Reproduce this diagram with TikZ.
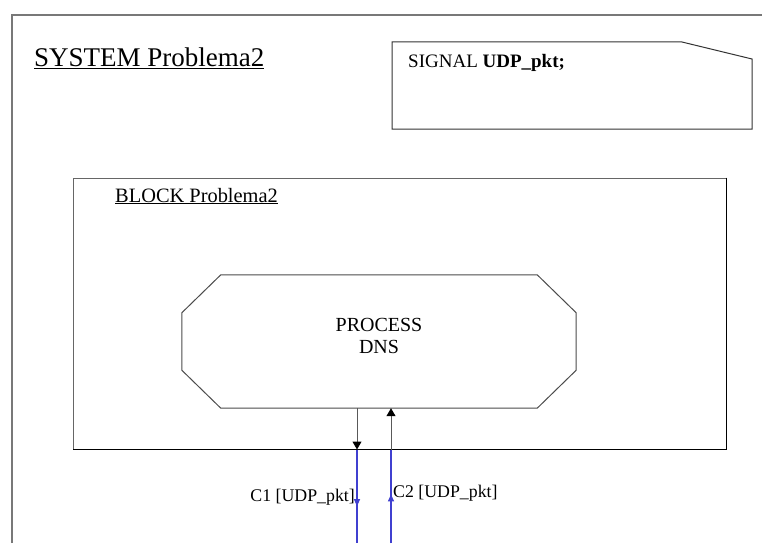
\documentclass[tikz,border=0pt]{standalone}
\usepackage{fontspec}
\setmainfont{Liberation Serif}
\usetikzlibrary{arrows.meta,calc}
\definecolor{chanblue}{RGB}{64,64,208}
\definecolor{framegray}{RGB}{120,120,120}
\begin{document}
\begin{tikzpicture}[x=1pt,y=-1pt,
  outer/.style={draw=framegray,line width=1.4pt},
  boxline/.style={draw=black!80,line width=1pt},
  procbox/.style={rectangle,minimum width=394pt,minimum height=133pt,inner sep=0pt},
  octline/.style={draw=black!70,line width=1pt},
  blockbox/.style={rectangle,minimum width=653pt,minimum height=271pt,inner sep=0pt,draw=black!60,line width=1pt},
  chan/.style={draw=black!65,line width=1pt},
  bluechan/.style={draw=chanblue,line width=1.2pt},
  blacktip/.style={-{Triangle[length=8pt,width=9pt,color=black]}},
  bluetip/.style={-{Triangle[length=7pt,width=6pt]}},
  txt/.style={inner sep=0pt,font=\fontsize{20}{22}\selectfont},
  lbl/.style={inner sep=0pt,font=\fontsize{17.8}{20}\selectfont}]
\useasboundingbox (0,0) rectangle (762,543);
\fill[white] (0,0) rectangle (762,543);
% outer system frame
\draw[outer] (12,543) -- (12,15) -- (762,15);
\node[inner sep=0pt,anchor=base west,font=\fontsize{27}{32}\selectfont] (systitle) at (34,66.5) {\underline{SYSTEM Problema2}};
% signal text symbol
\draw[boxline] (392,42) -- (682,42) -- (752,59) -- (752,129) -- (392,129) -- cycle;
\node[inner sep=0pt,anchor=base west,font=\fontsize{19}{22}\selectfont] (sig) at (408,67) {SIGNAL \textbf{UDP\_pkt;}};
% block
\node[blockbox] (b) at (399.5,313.5) {};
\draw[draw=black,line width=1pt] (b.north east) -- (b.south east) -- (b.south west);
\node[inner sep=0pt,anchor=base west,font=\fontsize{20.4}{24}\selectfont] (btitle) at (115,202) {\underline{BLOCK Problema2}};
% process
\node[procbox] (p) at (379,341.5) {};
\draw[octline] ($(p.north west)+(39,0)$) -- ($(p.north east)+(-39,0)$)
  -- ($(p.north east)+(0,38)$) -- ($(p.south east)+(0,-38)$)
  -- ($(p.south east)+(-39,0)$) -- ($(p.south west)+(39,0)$)
  -- ($(p.south west)+(0,-38)$) -- ($(p.north west)+(0,38)$) -- cycle;
\node[txt,align=center] (ptext) at (379,336) {PROCESS\\DNS};
% channel coordinates
\coordinate (c1a) at ($(p.south)+(-22,0)$);
\coordinate (c2a) at ($(p.south)+(12,0)$);
\coordinate (c1b) at (c1a |- b.south);
\coordinate (c2b) at (c2a |- b.south);
\coordinate (c1c) at (c1a |- 0,543);
\coordinate (c2c) at (c2a |- 0,543);
% inner channel parts
\draw[chan,blacktip] (c1a) -- (c1b);
\draw[chan,blacktip] (c2b) -- (c2a);
% outer channel parts
\draw[bluechan] (c1b) -- (c1c);
\draw[bluechan,bluetip] (c1b) -- ($(c1b)!0.606!(c1c)$);
\draw[bluechan] (c2c) -- (c2b);
\draw[bluechan,bluetip] (c2c) -- ($(c2c)!0.52!(c2b)$);
\node[lbl,anchor=base east] (l1) at (355,501) {C1 [UDP\_pkt]};
\node[lbl,anchor=base west] (l2) at (393,497) {C2 [UDP\_pkt]};
\end{tikzpicture}
\end{document}
